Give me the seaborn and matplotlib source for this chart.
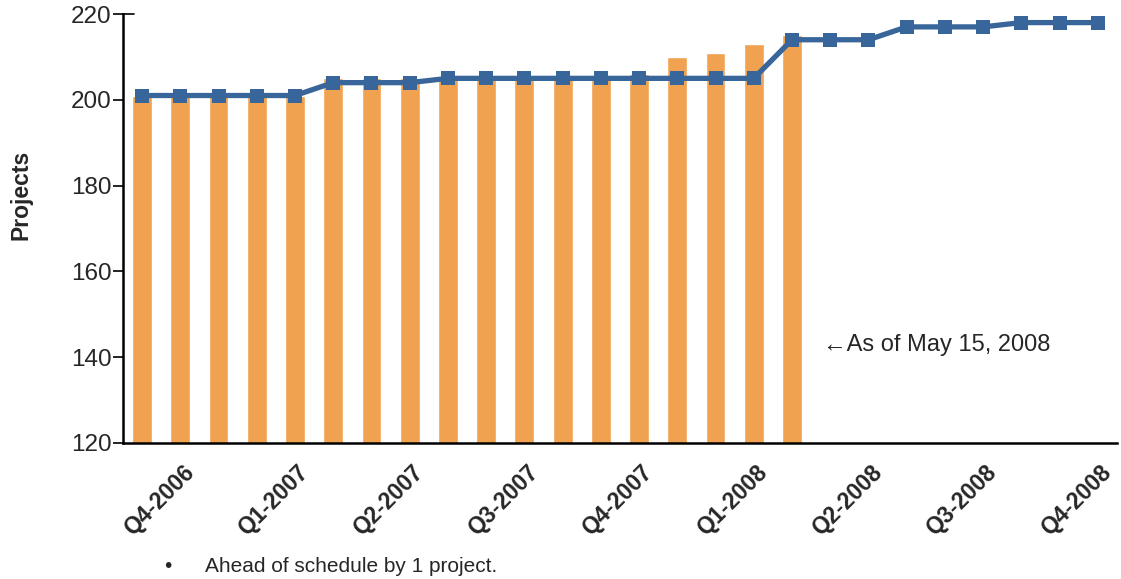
import numpy as np
import pandas as pd
import seaborn as sns
import matplotlib.pyplot as plt
from matplotlib.transforms import ScaledTranslation

# monthly categories, Nov 2006 .. Dec 2008
months = ['Nov-2006', 'Dec-2006', 'Jan-2007', 'Feb-2007', 'Mar-2007', 'Apr-2007',
          'May-2007', 'Jun-2007', 'Jul-2007', 'Aug-2007', 'Sep-2007', 'Oct-2007',
          'Nov-2007', 'Dec-2007', 'Jan-2008', 'Feb-2008', 'Mar-2008', 'Apr-2008',
          'May-2008', 'Jun-2008', 'Jul-2008', 'Aug-2008', 'Sep-2008', 'Oct-2008',
          'Nov-2008', 'Dec-2008']

# planned (line) and actual (bars, through Apr 2008)
planned = [201, 201, 201, 201, 201, 204, 204, 204, 205, 205, 205, 205, 205,
           205, 205, 205, 205, 214, 214, 214, 217, 217, 217, 218, 218, 218]
actual = [201, 201, 201, 201, 201, 205, 205, 205, 205, 205, 205, 205, 205,
          206, 210, 211, 213, 215]

quarter_labels = ['Q4-2006', 'Q1-2007', 'Q2-2007', 'Q3-2007', 'Q4-2007',
                  'Q1-2008', 'Q2-2008', 'Q3-2008', 'Q4-2008']

bar_color = '#F0A250'
line_color = '#38659A'

sns.set_style('white')
plt.rcParams['font.family'] = ['Liberation Sans', 'DejaVu Sans']

pos = np.arange(len(months))
bars = pd.DataFrame({'pos': pos[:len(actual)], 'projects': actual})
line = pd.DataFrame({'pos': pos, 'projects': planned})

fig = plt.figure(figsize=(11.21, 5.79), dpi=100)
ax = fig.add_axes([0.1097, 0.2349, 0.8867, 0.7409])

sns.barplot(data=bars, x='pos', y='projects', native_scale=True, width=0.52,
            color=bar_color, saturation=1, errorbar=None, ax=ax, zorder=2)
sns.lineplot(data=line, x='pos', y='projects', color=line_color, linewidth=3.8,
             marker='s', markersize=10.5, markeredgewidth=0, ax=ax, zorder=3)

ax.set_xlim(-0.5, len(months) - 0.5)
ax.set_ylim(120, 220)
ax.set_yticks([120, 140, 160, 180, 200, 220])
ax.tick_params(axis='y', labelsize=17.5, length=7, width=1.2, color='black',
               direction='out', left=True, pad=1)

qpos = [1.5 + 3 * i for i in range(len(quarter_labels))]
ax.set_xticks(qpos)
ax.set_xticklabels(quarter_labels, rotation=45, ha='right', va='top',
                   rotation_mode='anchor', fontsize=16.5, fontweight='bold')
ax.tick_params(axis='x', length=0, pad=13)
for lab in ax.get_xticklabels():
    lab.set_transform(lab.get_transform() + ScaledTranslation(-17 / 100, 0, fig.dpi_scale_trans))

ax.set_xlabel('')
ax.set_ylabel('Projects', fontsize=16.5, fontweight='bold')
ax.yaxis.set_label_coords(-0.091, 0.578)

for side in ['top', 'right']:
    ax.spines[side].set_visible(False)
for side in ['left', 'bottom']:
    ax.spines[side].set_color('black')
    ax.spines[side].set_linewidth(1.8)

# little tick stub to the right of the axis at 220
ax.plot([-0.5, -0.2], [220, 220], color='black', linewidth=1.2, clip_on=False, zorder=4)

ax.text(17.8, 142.8, '\u2190As of May 15, 2008', fontsize=17, ha='left', va='center')

fig.text(168 / 1121, 1 - 566 / 579, '\u2022', fontsize=15, ha='center', va='center')
fig.text(205 / 1121, 1 - 566 / 579, 'Ahead of schedule by 1 project.', fontsize=15,
         ha='left', va='center')

fig.savefig('out.png', dpi=100)
